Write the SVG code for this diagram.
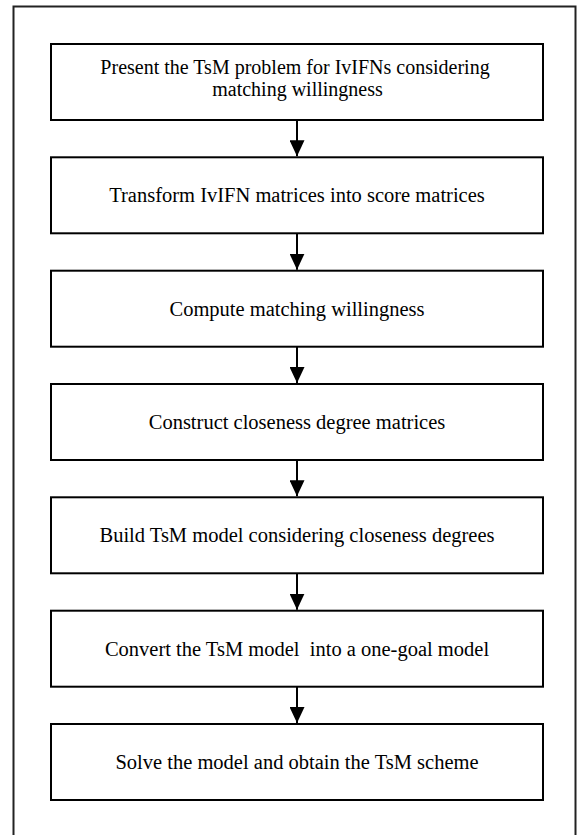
<svg xmlns="http://www.w3.org/2000/svg" width="581" height="835" viewBox="0 0 581 835">
<defs>
<style>
.box{fill:#fff;stroke:#000;stroke-width:2}
.frame{fill:none;stroke:#222;stroke-width:2}
.t{font-family:"Liberation Serif","Times New Roman",serif;font-size:20.5px;fill:#000;text-anchor:middle}
.t2{font-size:20px}
.edge{stroke:#000;stroke-width:2;fill:none}
</style>
<marker id="ah" markerWidth="16" markerHeight="15" refX="16" refY="7.5" orient="auto" markerUnits="userSpaceOnUse">
<path d="M0,0 L16,7.5 L0,15 Z" fill="#000"/>
</marker>
</defs>
<rect width="581" height="835" fill="#fff"/>
<rect class="frame" x="13.5" y="6.5" width="562" height="840"/>
<g id="n1"><rect class="box" x="51" y="44" width="492" height="76"/><text class="t t2" x="295" y="73.5">Present the TsM problem for IvIFNs considering</text><text class="t t2" x="297.5" y="96">matching willingness</text></g>
<g id="n2"><rect class="box" x="51" y="157.3" width="492" height="76"/><text class="t" x="297" y="202.3">Transform IvIFN matrices into score matrices</text></g>
<g id="n3"><rect class="box" x="51" y="270.7" width="492" height="76"/><text class="t" x="297" y="315.7">Compute matching willingness</text></g>
<g id="n4"><rect class="box" x="51" y="384" width="492" height="76"/><text class="t" x="297" y="429">Construct closeness degree matrices</text></g>
<g id="n5"><rect class="box" x="51" y="497.3" width="492" height="76"/><text class="t" x="297" y="542.3">Build TsM model considering closeness degrees</text></g>
<g id="n6"><rect class="box" x="51" y="610.7" width="492" height="76"/><text class="t" x="297" y="655.7" xml:space="preserve">Convert the TsM model&#160; into a one-goal model</text></g>
<g id="n7"><rect class="box" x="51" y="724" width="492" height="76"/><text class="t" x="297" y="769">Solve the model and obtain the TsM scheme</text></g>
<g id="edges">
<line class="edge" x1="297" y1="120" x2="297" y2="156.3" marker-end="url(#ah)"/>
<line class="edge" x1="297" y1="233.3" x2="297" y2="269.7" marker-end="url(#ah)"/>
<line class="edge" x1="297" y1="346.7" x2="297" y2="383" marker-end="url(#ah)"/>
<line class="edge" x1="297" y1="460" x2="297" y2="496.3" marker-end="url(#ah)"/>
<line class="edge" x1="297" y1="573.3" x2="297" y2="609.7" marker-end="url(#ah)"/>
<line class="edge" x1="297" y1="686.7" x2="297" y2="723" marker-end="url(#ah)"/>
</g>
</svg>
